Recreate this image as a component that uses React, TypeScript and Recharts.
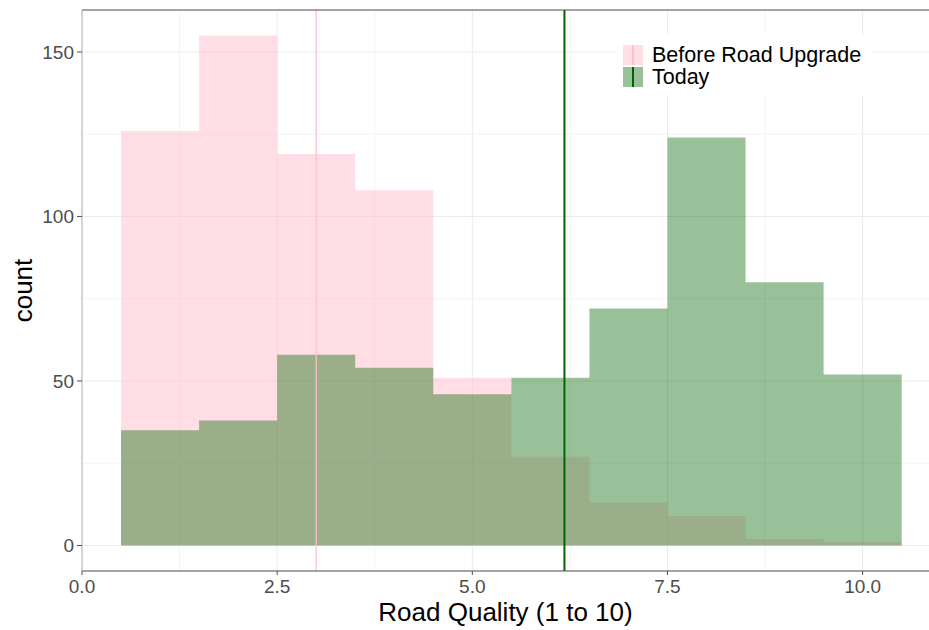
import React from 'react';
import { ComposedChart, Area, XAxis, YAxis, CartesianGrid, ReferenceLine } from 'recharts';

const BIN_CENTERS = [1, 2, 3, 4, 5, 6, 7, 8, 9, 10];
const BEFORE_COUNTS = [126, 155, 119, 108, 51, 27, 13, 9, 2, 1];
const TODAY_COUNTS = [35, 38, 58, 54, 46, 51, 72, 124, 80, 52];
const BIN_WIDTH = 1;
const X_TICKS = [0, 2.5, 5, 7.5, 10];
const X_MINOR = [1.25, 3.75, 6.25, 8.75];
const Y_TICKS = [0, 50, 100, 150];
const Y_MINOR = [25, 75, 125];
const BEFORE_MEAN = 3.0;
const TODAY_MEAN = 6.18;
const SERIES_NAMES = ['Before Road Upgrade', 'Today'];
const SERIES_COLORS = ['pink', 'darkgreen'];
const SERIES_ALPHA = [0.5, 0.4];
const X_TITLE = 'Road Quality (1 to 10)';
const Y_TITLE = 'count';

const FONT = '"Liberation Sans", Arial, Helvetica, sans-serif';

// step table: left edge of each bin, plus closing right edge
const table = BIN_CENTERS.map((c, i) => ({
  x: c - BIN_WIDTH / 2,
  before: BEFORE_COUNTS[i],
  today: TODAY_COUNTS[i],
}));
table.push({
  x: BIN_CENTERS[BIN_CENTERS.length - 1] + BIN_WIDTH / 2,
  before: BEFORE_COUNTS[BEFORE_COUNTS.length - 1],
  today: TODAY_COUNTS[TODAY_COUNTS.length - 1],
});

const XTitle = (props: any) => {
  const vb = props.viewBox;
  return (
    <text x={vb.x + vb.width / 2} y={621} textAnchor="middle" fontSize={26} fontFamily={FONT} fill="#000">
      {X_TITLE}
    </text>
  );
};

const YTitle = (props: any) => {
  const cy = 290.5;
  return (
    <text x={32} y={cy} transform={`rotate(-90, 32, ${cy})`} textAnchor="middle" fontSize={26} fontFamily={FONT} fill="#000">
      {Y_TITLE}
    </text>
  );
};

export default function App() {
  return (
    <div style={{ position: 'absolute', left: 0, top: 0, width: 929, height: 630, background: '#fff' }}>
      <ComposedChart width={929} height={630} data={table} margin={{ top: 10, right: 0, left: 0, bottom: 0 }}>
        <CartesianGrid stroke="#f4f4f4" horizontalValues={Y_MINOR} verticalValues={X_MINOR} />
        <CartesianGrid stroke="#ebebeb" horizontalValues={Y_TICKS} verticalValues={X_TICKS} />
        <XAxis
          type="number"
          dataKey="x"
          domain={[0, 10.85]}
          ticks={X_TICKS}
          tickFormatter={(v: number) => v.toFixed(1)}
          allowDataOverflow
          height={59}
          tickSize={4}
          tickMargin={5}
          axisLine={{ stroke: '#4d4d4d', strokeWidth: 1.2 }}
          tickLine={{ stroke: '#4d4d4d' }}
          tick={{ fill: '#4d4d4d', fontSize: 19, fontFamily: FONT }}
          label={<XTitle />}
        />
        <YAxis
          type="number"
          domain={[-7.75, 162.75]}
          ticks={Y_TICKS}
          allowDataOverflow
          width={82}
          tickSize={5}
          tickMargin={3}
          axisLine={{ stroke: '#b3b3b3', strokeWidth: 1 }}
          tickLine={{ stroke: '#4d4d4d' }}
          tick={{ fill: '#4d4d4d', fontSize: 19, fontFamily: FONT }}
          label={<YTitle />}
        />
        <Area
          type="stepAfter"
          dataKey="before"
          name={SERIES_NAMES[0]}
          baseValue={0}
          stroke="none"
          fill={SERIES_COLORS[0]}
          fillOpacity={SERIES_ALPHA[0]}
          isAnimationActive={false}
          dot={false}
          activeDot={false}
        />
        <Area
          type="stepAfter"
          dataKey="today"
          name={SERIES_NAMES[1]}
          baseValue={0}
          stroke="none"
          fill={SERIES_COLORS[1]}
          fillOpacity={SERIES_ALPHA[1]}
          isAnimationActive={false}
          dot={false}
          activeDot={false}
        />
        <ReferenceLine x={BEFORE_MEAN} stroke={SERIES_COLORS[0]} strokeWidth={1.3} />
        <ReferenceLine x={TODAY_MEAN} stroke={SERIES_COLORS[1]} strokeWidth={2} />
        <ReferenceLine y={162.75} stroke="#4d4d4d" strokeWidth={1.2} />
      </ComposedChart>
      <div
        style={{
          position: 'absolute',
          left: 615,
          top: 35,
          width: 256,
          height: 60,
          background: '#fff',
          fontFamily: FONT,
        }}
      >
        {SERIES_NAMES.map((name, i) => (
          <div key={name} style={{ position: 'absolute', left: 0, top: 10 + i * 21.7, height: 20 }}>
            <div style={{ position: 'absolute', left: 8, top: 0, width: 20, height: 20, background: '#fff' }}>
              <div style={{ position: 'absolute', inset: 0, background: SERIES_COLORS[i], opacity: SERIES_ALPHA[i] }} />
              <div
                style={{
                  position: 'absolute',
                  left: i === 0 ? 9.4 : 9,
                  top: 0,
                  width: i === 0 ? 1.3 : 2,
                  height: 20,
                  background: SERIES_COLORS[i],
                }}
              />
            </div>
            <div style={{ position: 'absolute', left: 37, top: 0, fontSize: 21.5, lineHeight: '20px', color: '#000', whiteSpace: 'nowrap' }}>
              {name}
            </div>
          </div>
        ))}
      </div>
    </div>
  );
}
